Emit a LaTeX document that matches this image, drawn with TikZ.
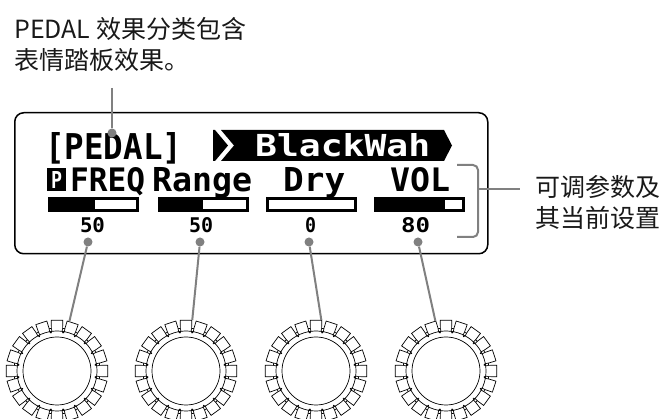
\documentclass[tikz,border=0pt]{standalone}
\usepackage{fontspec}
\usepackage{graphicx}
\newfontfamily\cjkfont{Noto Sans CJK SC}
\newfontfamily\lcdfont{DejaVu Sans Mono}
\usetikzlibrary{positioning, calc}
\tikzset{
    leader/.style = {line width=2pt, draw=black!50},
    dot/.style = {circle, fill=black!50, inner sep=0pt, minimum size=9pt},
    note/.style = {font=\cjkfont\fontsize{25}{31}\selectfont, align=left, inner sep=0pt, text=black!90},
    lcd/.style = {inner sep=0pt, anchor=base west, font=\lcdfont\bfseries},
    lcdframe/.style = {draw=black, line width=1.5pt, rounded corners=9pt, minimum width=473pt, minimum height=141pt, inner sep=0pt},
    bar/.style = {draw=black, line width=3pt},
    knob/.style = {circle, minimum size=102pt, inner sep=0pt},
    knobline/.style = {draw=black, line width=0.7pt},
    gear/.pic = {
        \draw[knobline] (-7.5:43) \foreach \t in {0,18,...,342} { -- (\t-7.5:43) -- (\t-6.5:51) -- (\t+6.5:51) -- (\t+7.5:43) } -- cycle;
        \foreach \t in {9,27,...,351}
            \draw[knobline] (\t-1.6:43) -- (\t-1.6:40) .. controls (\t-1.6:38) and (\t+1.6:38) .. (\t+1.6:40) -- (\t+1.6:43);
        \draw[knobline] (0,0) circle[radius=40];
        \draw[knobline] (0,0) circle[radius=34];
    }
}
\newcommand{\lcdtxt}[3]{\resizebox{#1}{#2}{#3}}

\begin{document}
\begin{tikzpicture}[x=1pt, y=-1pt]
    \useasboundingbox (0,0) rectangle (667,419);

    % Note on the category
    \node[note, anchor=north west] (pedalnote) at (14,17) {PEDAL 效果分类包含\\表情踏板效果。};

    % Display
    \node[lcdframe, anchor=north west] (lcd) at (14,112) {};
    \node[lcd] (cat) at (45,160) {\lcdtxt{137pt}{27pt}{[PEDAL]}};
    \fill (213,130) -- (215,130) -- (228,145.5) -- (215,161) -- (213,161) -- cycle;
    \fill (221,130) -- (444,130) -- (452,145.5) -- (444,161) -- (221,161) -- (234,145.5) -- cycle;
    \node[lcd, text=white] (fxname) at (255,157) {\lcdtxt{175pt}{23pt}{BlackWah}};

    % Parameter names
    \node[fill=black, text=white, minimum width=19pt, minimum height=23pt, inner sep=0pt, anchor=north west, font=\lcdfont\bfseries] (picon) at (47,168) {\lcdtxt{11pt}{17pt}{P}};
    \node[lcd] (freq) at (70,192) {\lcdtxt{75pt}{24pt}{FREQ}};
    \node[lcd] (range) at (152,192) {\lcdtxt{100pt}{24pt}{Range}};
    \node[lcd] (dry) at (283,192) {\lcdtxt{62pt}{24pt}{Dry}};
    \node[lcd] (vol) at (390,192) {\lcdtxt{60pt}{24pt}{VOL}};

    % Level bars
    \foreach \x/\f in {48/47, 158/45, 266/0, 374/71} {
        \draw[bar] (\x+1.5,198.5) rectangle (\x+89.5,210.5);
        \fill (\x,197) rectangle (\x+\f,212);
    }

    % Values
    \node[lcd, anchor=base] (v1) at (92.5,233) {\lcdtxt{25pt}{15pt}{50}};
    \node[lcd, anchor=base] (v2) at (201,233) {\lcdtxt{24pt}{15pt}{50}};
    \node[lcd, anchor=base] (v3) at (310.5,233) {\lcdtxt{11pt}{15pt}{0}};
    \node[lcd, anchor=base] (v4) at (415.5,233) {\lcdtxt{29pt}{15pt}{80}};

    % Category leader
    \coordinate (pedaltop) at (112,88);
    \node[dot] (dp) at (112,133) {};
    \draw[leader] (pedaltop) -- (dp);

    % Knobs
    \foreach \i/\x/\d/\a in {1/57/88/76, 2/186/200/83, 3/316/309/84, 4/446/418/102} {
        \node[knob] (k\i) at (\x,371) {};
        \pic at (k\i) {gear};
        \node[dot] (d\i) at (\d,242) {};
        \draw[leader] (d\i) -- (k\i.\a);
    }

    % Parameter bracket
    \draw[leader, rounded corners=5pt] (457,165) -| (478,237) -- (457,237);
    \coordinate (brk) at (478,189);
    \node[note, anchor=north west] (params) at (535,175) {可调参数及\\其当前设置};
    \draw[leader, shorten >=15pt] (brk) -- (params.west |- brk);
\end{tikzpicture}
\end{document}
